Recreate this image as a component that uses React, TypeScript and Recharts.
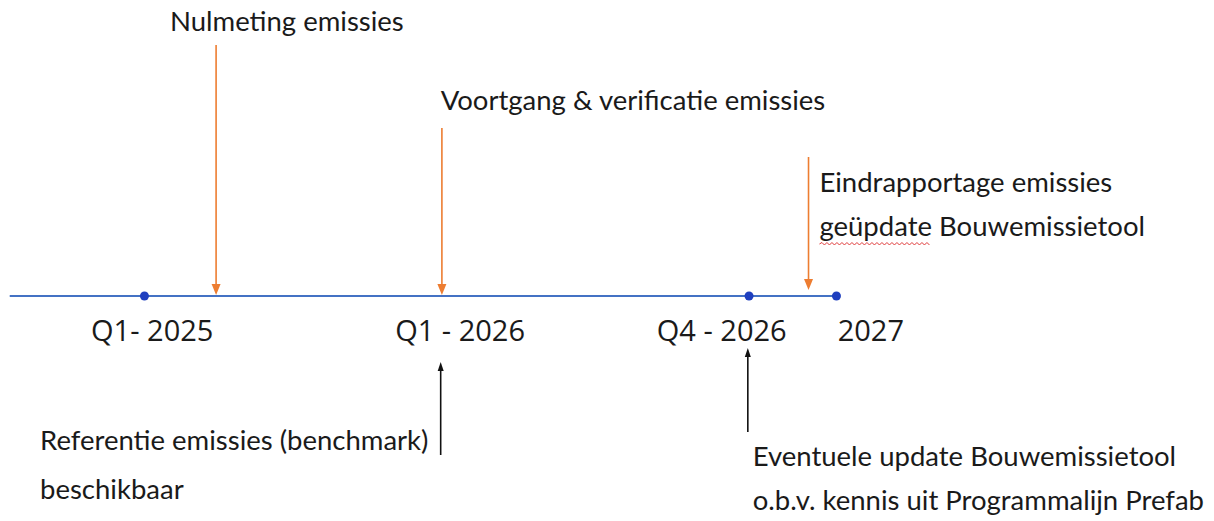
import React from "react";
import {
  ComposedChart,
  ReferenceDot,
  ReferenceLine,
  Scatter,
  XAxis,
  YAxis,
} from "recharts";

// Timeline positions on an abstract 0-100 track, heights in tenths above/below the line.
const trackStart = 0.8;
const trackEnd = 68.9;

const milestones = [
  { x: 11.9, y: 0 }, // Q1 - 2025
  { x: 61.7, y: 0 }, // Q4 - 2026
  { x: 68.9, y: 0 }, // 2027
];

const periodLabels = [
  { x: 7.5, y: -4.5, text: "Q1- 2025" },
  { x: 32.55, y: -4.5, text: "Q1 - 2026" },
  { x: 54.1, y: -4.5, text: "Q4 - 2026" },
  { x: 69.0, y: -4.5, text: "2027" },
];

// orange = deliverables above the line, black = inputs below the line
const deliverableArrows = [
  { x: 17.8, from: 25.1, to: 0.1 },
  { x: 36.4, from: 16.8, to: 0.1 },
  { x: 66.6, from: 13.9, to: 0.6 },
];

const inputArrows = [
  { x: 36.3, from: -15.9, to: -6.6 },
  { x: 61.6, from: -13.6, to: -5.2 },
];

const notes = [
  { x: 14.0, y: 26.5, text: "Nulmeting emissies" },
  { x: 36.3, y: 18.6, text: "Voortgang & verificatie emissies" },
  { x: 67.5, y: 10.4, text: "Eindrapportage emissies" },
  { x: 67.5, y: 6.0, text: "geüpdate Bouwemissietool", squiggle: "geüpdate" },
  { x: 3.3, y: -15.4, text: "Referentie emissies (benchmark)" },
  { x: 3.3, y: -20.3, text: "beschikbaar" },
  { x: 62.0, y: -17.0, text: "Eventuele update Bouwemissietool" },
  { x: 62.0, y: -21.4, text: "o.b.v. kennis uit Programmalijn Prefab" },
];

const ORANGE = "#ed7d31";
const BLUE_LINE = "#4472c4";
const BLUE_DOT = "#1f3fbf";
const noteFont = "Lato, 'Noto Sans', sans-serif";
const tickFont = "'Open Sans', 'Noto Sans', sans-serif";

function arrowShape(color: string, width: number, headW: number, headL: number) {
  return (props: any) => {
    const { x1, y1, x2, y2 } = props;
    if (x1 == null || y1 == null) return <g />;
    const dir = y2 > y1 ? 1 : -1;
    const baseY = y2 - dir * headL;
    return (
      <g>
        <line x1={x1} y1={y1} x2={x2} y2={baseY} stroke={color} strokeWidth={width} />
        <polygon
          points={`${x2 - headW / 2},${baseY} ${x2 + headW / 2},${baseY} ${x2},${y2}`}
          fill={color}
        />
      </g>
    );
  };
}

// spell-check style red wave under a word
function wave(x: number, y: number, w: number) {
  let d = `M${x},${y}`;
  for (let i = 0, up = true; i < w; i += 2.5, up = !up) {
    d += ` L${x + i + 2.5},${up ? y - 1.5 : y + 1}`;
  }
  return <path d={d} fill="none" stroke="#e03b3b" strokeWidth={1} />;
}

function textShape(text: string, font: string, size: number, squiggle?: string) {
  return (props: any) => {
    const { cx, cy } = props;
    return (
      <g>
        <text x={cx} y={cy} fontFamily={font} fontSize={size} fill="#1a1a1a">
          {text}
        </text>
        {squiggle ? wave(cx, cy + 8, squiggle.length * size * 0.5) : null}
      </g>
    );
  };
}

export default function App() {
  return (
    <div style={{ position: "absolute", left: 0, top: 0, background: "#fff" }}>
      <ComposedChart width={1214} height={521} margin={{ top: 0, right: 0, bottom: 0, left: 0 }}>
        <XAxis type="number" dataKey="x" domain={[0, 100]} hide allowDataOverflow />
        <YAxis type="number" dataKey="y" domain={[-22.5, 29.6]} hide allowDataOverflow />
        <ReferenceLine
          segment={[
            { x: trackStart, y: 0 },
            { x: trackEnd, y: 0 },
          ]}
          stroke={BLUE_LINE}
          strokeWidth={2}
          ifOverflow="visible"
        />
        {deliverableArrows.map((a, i) => (
          <ReferenceLine
            key={`d${i}`}
            segment={[
              { x: a.x, y: a.from },
              { x: a.x, y: a.to },
            ]}
            ifOverflow="visible"
            shape={arrowShape(ORANGE, 1.6, 9, 11)}
          />
        ))}
        {inputArrows.map((a, i) => (
          <ReferenceLine
            key={`i${i}`}
            segment={[
              { x: a.x, y: a.from },
              { x: a.x, y: a.to },
            ]}
            ifOverflow="visible"
            shape={arrowShape("#111", 1.6, 6, 9)}
          />
        ))}
        <Scatter data={milestones} fill={BLUE_DOT} isAnimationActive={false} shape={(p: any) => <circle cx={p.cx} cy={p.cy} r={4.5} fill={BLUE_DOT} />} />
        {periodLabels.map((l) => (
          <ReferenceDot key={l.text} x={l.x} y={l.y} r={0} ifOverflow="visible" shape={textShape(l.text, tickFont, 29)} />
        ))}
        {notes.map((n) => (
          <ReferenceDot
            key={n.text}
            x={n.x}
            y={n.y}
            r={0}
            ifOverflow="visible"
            shape={textShape(n.text, noteFont, 27.5, n.squiggle)}
          />
        ))}
      </ComposedChart>
    </div>
  );
}
